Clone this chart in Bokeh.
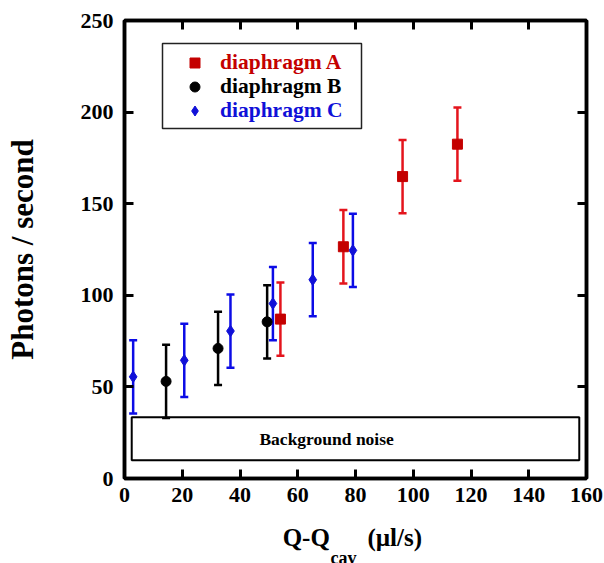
from bokeh.plotting import figure
from bokeh.models import (Range1d, LinearAxis, Whisker, ColumnDataSource,
                          Legend, LegendItem, BoxAnnotation, Title, CustomJSTickFormatter)
from bokeh.core.properties import value
from bokeh.embed import file_html
from bokeh.resources import INLINE

# ---- data ----
a_x = [54.0, 75.8, 96.3, 115.3]
a_y = [87.0, 126.5, 164.8, 182.5]
b_x = [14.4, 32.4, 49.4]
b_y = [53.0, 71.0, 85.5]
c_x = [3.0, 20.7, 36.7, 51.4, 65.2, 79.1]
c_y = [55.5, 64.5, 80.5, 95.5, 108.5, 124.5]
err = 20.0
noise_x = [2.5, 157.5]
noise_y = [10.0, 33.5]
noise_text = "Background noise"
labels = ["diaphragm A", "diaphragm B", "diaphragm C"]
x_ticks = [0, 20, 40, 60, 80, 100, 120, 140, 160]
y_ticks = [0, 50, 100, 150, 200, 250]
y_label = "Photons / second"
x_label_main = "Q-Q" + "\u00a0" * 6 + "(\u00b5l/s)" + "\u00a0"
x_label_sub = "cav"

FONT = "Liberation Serif"
RED_M, RED_E = "#c40000", "#e4141c"
BLUE_M, BLUE_E = "#1010d8", "#0c0ce6"

p = figure(width=604, height=563, output_backend="svg", toolbar_location=None,
           x_range=Range1d(0, 160), y_range=Range1d(0, 250),
           min_border_left=124, min_border_right=18, min_border_top=20, min_border_bottom=85,
           x_axis_location=None, y_axis_location=None)
p.grid.visible = False
p.outline_line_color = "black"
p.outline_line_width = 3.5
p.background_fill_color = "white"
p.border_fill_color = "white"


def make_axis(side, ticks, show_labels):
    ax = LinearAxis(ticker=ticks)
    ax.axis_line_color = "black"
    ax.axis_line_width = 3.5
    ax.major_tick_in = 9
    ax.major_tick_out = 0
    ax.major_tick_line_width = 3
    ax.minor_tick_line_color = None
    ax.major_label_text_font = FONT
    ax.major_label_text_font_style = "bold"
    ax.major_label_text_font_size = "22px"
    ax.major_label_text_color = "black"
    ax.axis_label_text_color = "black"
    ax.axis_label_text_font = FONT
    ax.axis_label_text_font_style = "bold"
    if not show_labels:
        ax.formatter = CustomJSTickFormatter(code="return ''")
        ax.major_label_text_font_size = "1px"
        ax.major_label_standoff = 0
    p.add_layout(ax, side)
    return ax


xb = make_axis("below", x_ticks, True)
xb.major_label_standoff = 9
xb.axis_label = x_label_main
xb.axis_label_text_font_size = "25px"
xb.axis_label_standoff = 19
yl = make_axis("left", y_ticks, True)
yl.major_label_standoff = 11
yl.axis_label = y_label
yl.axis_label_text_font_size = "31px"
yl.axis_label_standoff = 38
make_axis("above", x_ticks, False)
make_axis("right", y_ticks, False)

sub = Title(text=x_label_sub, align="left", offset=206, standoff=-15,
            text_font=FONT, text_font_style="bold", text_font_size="18px", text_color="black")
p.add_layout(sub, "below")

# background noise band
p.quad(left=[noise_x[0]], right=[noise_x[1]], bottom=[noise_y[0]], top=[noise_y[1]],
       fill_color=None, line_color="black", line_width=2)
p.text(x=[(noise_x[0] + noise_x[1]) / 2 - 10], y=[(noise_y[0] + noise_y[1]) / 2], text=[noise_text],
       text_font=value(FONT), text_font_style="bold", text_font_size="17.5px",
       text_align="center", text_baseline="middle", text_color="black")


def series(xs, ys, ecol, mcol, marker, size):
    src = ColumnDataSource(dict(x=xs, y=ys, lo=[v - err for v in ys], hi=[v + err for v in ys]))
    w = Whisker(source=src, base="x", upper="hi", lower="lo", dimension="height",
                line_color=ecol, line_width=2.5)
    for h in (w.upper_head, w.lower_head):
        h.size = 8
        h.line_color = ecol
        h.line_width = 2.5
    p.add_layout(w)
    r = p.scatter("x", "y", source=src, marker=marker, size=size,
                  fill_color=mcol, line_color=mcol)
    return r


rb = series(b_x, b_y, "black", "black", "circle", 10)
rc = series(c_x, c_y, BLUE_E, BLUE_M, "diamond", 11.5)
ra = series(a_x, a_y, RED_E, RED_M, "square", 10)

# legend box
p.add_layout(BoxAnnotation(left=38, right=237, bottom=350, top=435,
                           left_units="screen", right_units="screen",
                           bottom_units="screen", top_units="screen",
                           fill_color="white", fill_alpha=1, line_color="#222222",
                           line_alpha=1, line_width=1.5, level="overlay"))

rows = [(ra, labels[0], RED_M, 416), (rb, labels[1], "black", 392), (rc, labels[2], BLUE_M, 368)]
for r, lab, col, yc in rows:
    lg = Legend(items=[LegendItem(label=lab, renderers=[r])], location=(58, yc - 12.5),
                padding=0, margin=0, spacing=0, glyph_width=25, glyph_height=25, label_height=25,
                label_standoff=13, border_line_color=None, background_fill_alpha=0,
                label_text_font=FONT, label_text_font_style="bold", label_text_font_size="21.5px",
                label_text_color=col)
    p.add_layout(lg, "center")

open("out.html", "w").write(file_html(p, INLINE))
